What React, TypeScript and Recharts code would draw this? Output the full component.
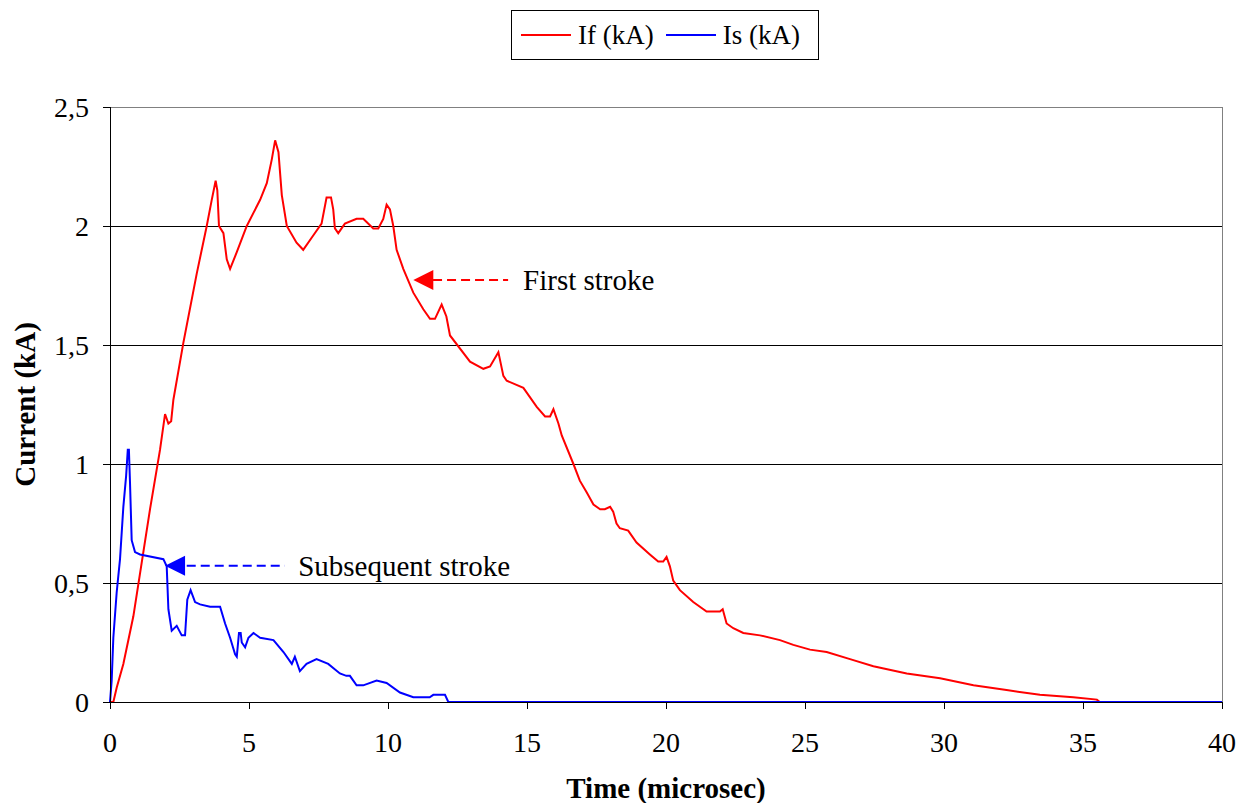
import { CartesianGrid, Line, LineChart, ReferenceDot, ReferenceLine, XAxis, YAxis } from "recharts"

// first stroke current, If (kA), time in microseconds
const ifTime = [
  0, 0.12, 0.24, 0.48, 0.84, 1.44, 1.8, 1.98, 2.1, 2.2, 2.28, 2.64, 3.12, 3.48, 3.66, 3.8, 3.86, 3.92, 4.08, 4.2,
  4.32, 4.56, 4.92, 5.4, 5.64, 5.82, 5.94, 6.06, 6.18, 6.36, 6.71, 6.95, 7.31, 7.61, 7.79, 7.95, 8.03, 8.09, 8.21,
  8.45, 8.87, 9.11, 9.47, 9.65, 9.83, 9.95, 10.07, 10.19, 10.31, 10.55, 10.91, 11.27, 11.51, 11.69, 11.93, 12.1,
  12.23, 12.95, 13.43, 13.67, 13.97, 14.15, 14.27, 14.87, 15.35, 15.65, 15.83, 15.95, 16.13, 16.25, 16.67, 16.9,
  17.15, 17.39, 17.63, 17.8, 17.99, 18.1, 18.22, 18.34, 18.64, 18.94, 19.42, 19.72, 19.9, 20.02, 20.14, 20.26,
  20.5, 20.98, 21.46, 21.94, 22.04, 22.18, 22.42, 22.78, 23.38, 24.1, 24.58, 25.18, 25.78, 26.62, 27.46, 28.66,
  29.86, 31.06, 32.25, 33.45, 34.65, 35.5, 35.6, 40,
]
const ifKA = [
  0, 0, 0.06, 0.16, 0.36, 0.81, 1.06, 1.21, 1.17, 1.18, 1.27, 1.51, 1.8, 2.0, 2.11, 2.19, 2.15, 2.0, 1.97, 1.86,
  1.82, 1.89, 2.0, 2.11, 2.18, 2.28, 2.36, 2.31, 2.13, 2.0, 1.93, 1.9, 1.96, 2.01, 2.12, 2.12, 2.07, 1.99, 1.97,
  2.01, 2.03, 2.03, 1.99, 1.99, 2.03, 2.09, 2.07, 2.0, 1.9, 1.82, 1.72, 1.65, 1.61, 1.61, 1.67, 1.62,
  1.54, 1.43, 1.4, 1.41, 1.47, 1.37, 1.35, 1.32, 1.24, 1.2, 1.2, 1.23, 1.17, 1.12, 1.0, 0.93,
  0.88, 0.83, 0.81, 0.81, 0.82, 0.8, 0.75, 0.73, 0.72, 0.67, 0.62, 0.59, 0.59, 0.61, 0.57, 0.51,
  0.47, 0.42, 0.38, 0.38, 0.39, 0.33, 0.31, 0.29, 0.28, 0.26, 0.24, 0.22, 0.21, 0.18, 0.15, 0.12,
  0.1, 0.07, 0.05, 0.03, 0.02, 0.01, 0, 0,
]

// subsequent stroke current, Is (kA)
const isTime = [
  0, 0.06, 0.12, 0.24, 0.36, 0.48, 0.58, 0.64, 0.68, 0.72, 0.78, 0.9, 1.08, 1.92, 2.04, 2.1, 2.22, 2.4, 2.58, 2.7,
  2.78, 2.9, 3.06, 3.24, 3.6, 3.96, 4.14, 4.32, 4.5, 4.56, 4.64, 4.7, 4.74, 4.86, 4.98, 5.16, 5.4, 5.88, 6.24,
  6.54, 6.65, 6.83, 7.07, 7.43, 7.85, 8.27, 8.5, 8.63, 8.87, 9.11, 9.59, 9.95, 10.43, 10.91, 11.5, 11.63, 12.05,
  12.17, 40,
]
const isKA = [
  0, 0.09, 0.27, 0.46, 0.6, 0.82, 0.95, 1.06, 1.06, 0.92, 0.68, 0.63, 0.62, 0.6, 0.57, 0.39, 0.3, 0.32, 0.28, 0.28,
  0.43, 0.47, 0.42, 0.41, 0.4, 0.4, 0.33, 0.27, 0.2, 0.19, 0.29, 0.29, 0.25, 0.23, 0.27, 0.29, 0.27, 0.26, 0.21,
  0.16, 0.19, 0.13, 0.16, 0.18, 0.16, 0.12, 0.11, 0.11, 0.07, 0.07, 0.09, 0.08, 0.04, 0.02, 0.02, 0.03, 0.03,
  0, 0,
]

const xTicks = [0, 5, 10, 15, 20, 25, 30, 35, 40]
const yTicks = [0, 0.5, 1, 1.5, 2, 2.5]
const seriesNames = ["If (kA)", "Is (kA)"]
const colors = ["#ff0000", "#0000ff"]

// annotations: [arrow tip t, level, dash start t, dash end t, text start t]
const firstStroke = [10.91, 1.773, 11.62, 14.32, 14.86]
const subsequentStroke = [1.98, 0.573, 2.76, 6.29, 6.77]
const annotationTexts = ["First stroke", "Subsequent stroke"]

const ifData = ifTime.map((t, i) => ({ t, v: ifKA[i] }))
const isData = isTime.map((t, i) => ({ t, v: isKA[i] }))

const font = "'Liberation Serif', 'Times New Roman', serif"

const arrowHead = (color: string) => (props: any) => {
  const { cx, cy } = props
  return <polygon points={`${cx},${cy} ${cx + 20},${cy - 10} ${cx + 20},${cy + 10}`} fill={color} />
}

const annotationText = (text: string) => (props: any) => {
  const { cx, cy } = props
  return (
    <text x={cx} y={cy} dominantBaseline="central" fontSize={29} fontFamily={font} fill="#000">
      {text}
    </text>
  )
}

export default function App() {
  const annos = [
    { a: firstStroke, color: colors[0], text: annotationTexts[0] },
    { a: subsequentStroke, color: colors[1], text: annotationTexts[1] },
  ]
  return (
    <div style={{ position: "relative", width: 1237, height: 795, fontFamily: font }}>
      <div
        style={{
          position: "absolute",
          left: 503,
          top: 2,
          width: 308,
          height: 50,
          boxSizing: "border-box",
          border: "1px solid #000",
          display: "flex",
          alignItems: "center",
          paddingLeft: 9,
          fontSize: 27,
          background: "#fff",
          zIndex: 1,
        }}
      >
        {seriesNames.map((name, i) => (
          <div key={name} style={{ display: "flex", alignItems: "center", marginRight: i === 0 ? 12 : 0 }}>
            <div style={{ width: 50, height: 2, background: colors[i], marginRight: 7 }} />
            <span>{name}</span>
          </div>
        ))}
      </div>
      <LineChart width={1237} height={795} margin={{ top: 99, right: 23, bottom: 0, left: 0 }} style={{ fontFamily: font }}>
        <CartesianGrid vertical={false} stroke="#000" shapeRendering="crispEdges" />
        <XAxis
          dataKey="t"
          type="number"
          domain={[0, 40]}
          ticks={xTicks}
          height={101}
          tickSize={7}
          tickMargin={23}
          stroke="#000"
          axisLine={{ stroke: "#000", shapeRendering: "crispEdges" }}
          tickLine={{ stroke: "#000", shapeRendering: "crispEdges" }}
          tick={{ fill: "#000", fontSize: 28, fontFamily: font }}
          allowDuplicatedCategory={false}
          label={{
            content: (p: any) => {
              const vb = p.viewBox
              return (
                <text x={vb.x + vb.width / 2} y={vb.y + 86} textAnchor="middle" dominantBaseline="central" fontSize={29} fontWeight="bold" fontFamily={font}>
                  Time (microsec)
                </text>
              )
            },
          }}
        />
        <YAxis
          type="number"
          domain={[0, 2.5]}
          ticks={yTicks}
          width={102}
          tickSize={7}
          tickMargin={14}
          stroke="#000"
          axisLine={{ stroke: "#000", shapeRendering: "crispEdges" }}
          tickLine={{ stroke: "#000", shapeRendering: "crispEdges" }}
          tickFormatter={(v: number) => String(v).replace(".", ",")}
          tick={{ fill: "#000", fontSize: 28, fontFamily: font }}
          label={{
            content: (p: any) => {
              const vb = p.viewBox
              const cx = vb.x + 17
              const cy = vb.y + vb.height / 2
              return (
                <text x={cx} y={cy} transform={`rotate(-90, ${cx}, ${cy})`} textAnchor="middle" dominantBaseline="central" fontSize={29} fontWeight="bold" fontFamily={font}>
                  Current (kA)
                </text>
              )
            },
          }}
        />
        <ReferenceLine y={2.5} stroke="#808080" shapeRendering="crispEdges" />
        <ReferenceLine x={40} stroke="#808080" shapeRendering="crispEdges" />
        <Line data={ifData} dataKey="v" name={seriesNames[0]} type="linear" stroke={colors[0]} strokeWidth={2} dot={false} isAnimationActive={false} />
        <Line data={isData} dataKey="v" name={seriesNames[1]} type="linear" stroke={colors[1]} strokeWidth={2} dot={false} isAnimationActive={false} />
        {annos.map(({ a, color, text }) => [
          <ReferenceLine
            key={text + "-dash"}
            segment={[{ x: a[2], y: a[1] }, { x: a[3], y: a[1] }]}
            stroke={color}
            strokeWidth={2}
            strokeDasharray="9 5"
          />,
          <ReferenceDot key={text + "-head"} x={a[0]} y={a[1]} r={1} shape={arrowHead(color)} />,
          <ReferenceDot key={text + "-text"} x={a[4]} y={a[1]} r={1} shape={annotationText(text)} />,
        ])}
      </LineChart>
    </div>
  )
}
